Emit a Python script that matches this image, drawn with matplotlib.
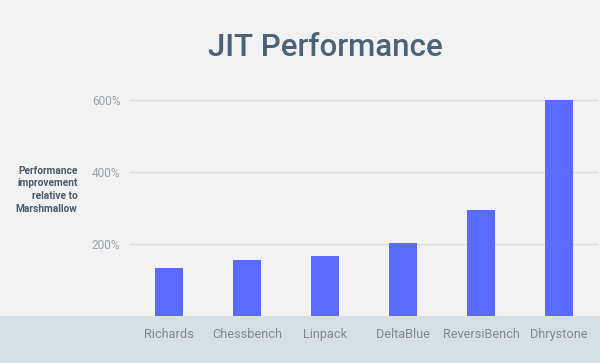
import matplotlib.pyplot as plt
from matplotlib.patches import Rectangle
from matplotlib.ticker import FuncFormatter

benchmarks = ["Richards", "Chessbench", "Linpack", "DeltaBlue", "ReversiBench", "Dhrystone"]
improvement = [133, 155, 167, 203, 294, 600]
y_ticks = [200, 400, 600]

BG = "#f1f2f1"
BAND = "#d6dfe2"
BAR = "#5b6aff"
TITLE = "#4a6379"
TICK = "#9aa3a8"
LABEL = "#4b5b6b"

plt.rcParams["font.family"] = ["Roboto", "DejaVu Sans"]

fig = plt.figure(figsize=(6, 3.63), dpi=100)
fig.patch.set_facecolor(BG)
fig.patches.append(Rectangle((0, 0), 1, 0.1295, transform=fig.transFigure,
                             facecolor=BAND, edgecolor="none", zorder=-5))

ax = fig.add_axes([0.2167, 0.1295, 0.78, 0.615])
ax.set_zorder(2)
ax.set_facecolor("none")
ax.bar(range(len(benchmarks)), improvement, width=0.36, color=BAR, zorder=3)

ax.set_xlim(-0.5, len(benchmarks) - 0.5)
ax.set_ylim(0, 620)
ax.set_yticks(y_ticks)
ax.yaxis.set_major_formatter(FuncFormatter(lambda v, p: f"{v:.0f}%"))
ax.set_xticks(range(len(benchmarks)))
ax.set_xticklabels(benchmarks)
ax.tick_params(axis="x", length=0, pad=8.5, labelsize=9.2, labelcolor="#7d8a92")
ax.tick_params(axis="y", length=0, pad=7, labelsize=8.6, labelcolor=TICK)
ax.yaxis.grid(True, color="#dcdddc", linewidth=1, zorder=1)
ax.set_axisbelow(True)
for s in ax.spines.values():
    s.set_visible(False)

fig.text(0.5417, 0.868, "JIT Performance", ha="center", va="center",
         fontsize=22.5, color=TITLE, fontweight="medium")
fig.text(0.129, 0.477, "Performance\nimprovement\nrelative to\nMarshmallow",
         ha="right", va="center", fontsize=7.3, color=LABEL, fontweight="bold",
         linespacing=1.35)

fig.savefig("out.png", dpi=100, facecolor=BG)
